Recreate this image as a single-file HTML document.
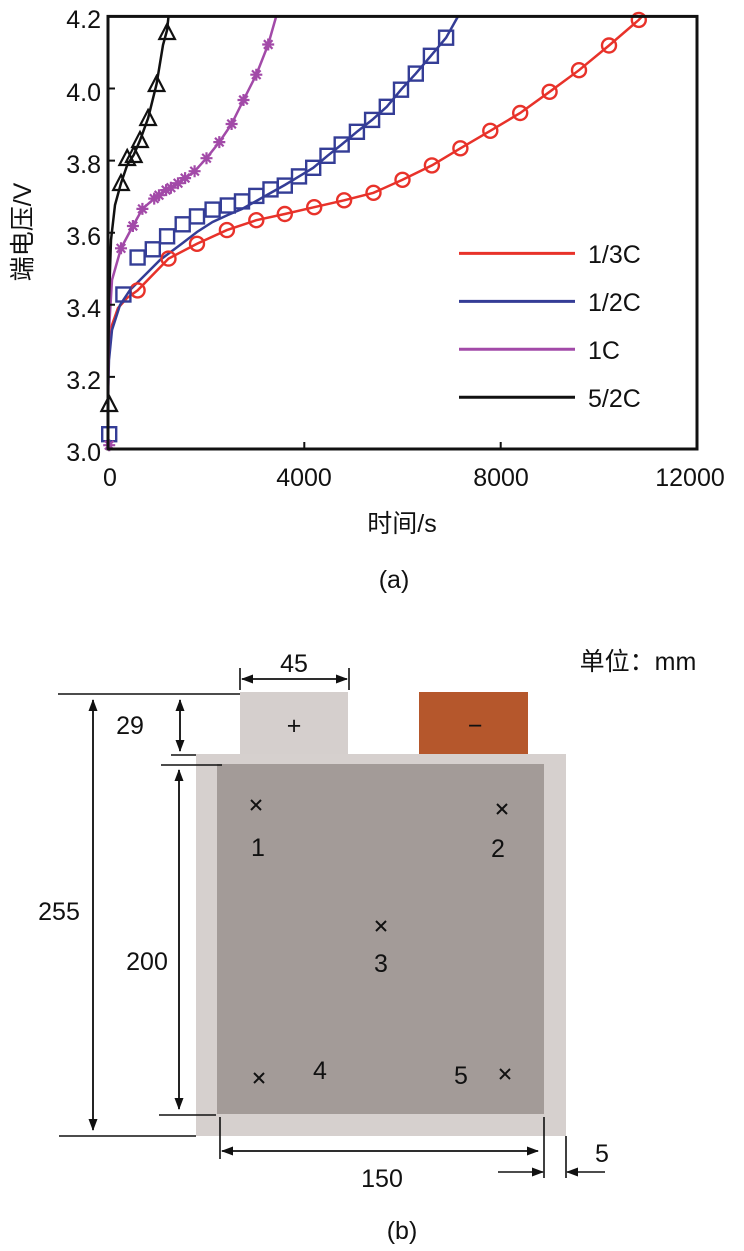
<!DOCTYPE html>
<html><head><meta charset="utf-8"><style>
body{margin:0;background:#fff}
svg{display:block;font-family:"Liberation Sans","Noto Sans CJK SC",sans-serif}
</style></head><body>
<svg width="744" height="1251" viewBox="0 0 744 1251" xmlns="http://www.w3.org/2000/svg">
<defs>
<marker id="ah" markerWidth="12" markerHeight="12" refX="11" refY="6" orient="auto" markerUnits="userSpaceOnUse"><path d="M0,1.5 L12,6 L0,10.5 z" fill="#111"/></marker>
<g id="st" stroke="#a24aa8" stroke-width="2.2"><path d="M-6,0 H6 M0,-6 V6 M-4.3,-4.3 L4.3,4.3 M-4.3,4.3 L4.3,-4.3"/></g>
</defs>
<!-- chart a -->
<g fill="none" stroke-width="2.5">
<path stroke="#e8322a" d="M108,378 L109,350 L112,325 L118,308 L127,298 L137.6,290.4 L168.5,258.6 L197,243.8 L226.9,230.1 L256.3,220.2 L284.8,214 L314.2,207.2 L344.1,200.3 L373.5,192.8 L402.5,179.8 L431.9,165.4 L460.4,148.3 L490.3,130.8 L520.2,113 L549.6,91.8 L579,70.2 L609,45.5 L638.8,19.9 L642,16.4"/>
<path stroke="#343d96" d="M108,395 L109,360 L112,330 L120,305 L130,290 L145,275 L160,260 L182.7,243 L197,232 L212.6,222 L227.8,215 L242,209 L256.3,201 L270.5,193 L284.8,185 L299,176.4 L313.2,167.8 L327.5,155.8 L341.7,144.5 L356.9,131.8 L372.1,119.9 L386.8,106.8 L401,89.7 L415.8,73.6 L430.9,55.8 L446.1,37.7 L458,16.4"/>
<path stroke="#a24aa8" d="M108,420 L109,330 L112,280 L121,248.3 L132.9,226 L142.4,208.9 L154.2,198.6 L166.1,190.1 L178,183.2 L185.1,178.1 L194.6,171.2 L206.5,158.2 L219.3,142.1 L231.6,124 L243.5,100 L256.3,74.7 L268.2,44.5 L276.2,16.4"/>
<path stroke="#111" d="M108,400 L109,300 L111,240 L115,205 L121,183.2 L127.2,165 L133.8,154.8 L140,140.4 L148.1,118.2 L156.6,83.9 L163,45 L167.1,30 L168.5,16.4"/>
</g>
<g fill="none" stroke="#e8322a" stroke-width="2.4">
<circle cx="137.6" cy="290.4" r="7"/><circle cx="168.5" cy="258.6" r="7"/><circle cx="197" cy="243.8" r="7"/><circle cx="226.9" cy="230.1" r="7"/><circle cx="256.3" cy="220.2" r="7"/><circle cx="284.8" cy="214" r="7"/><circle cx="314.2" cy="207.2" r="7"/><circle cx="344.1" cy="200.3" r="7"/><circle cx="373.5" cy="192.8" r="7"/><circle cx="402.5" cy="179.8" r="7"/><circle cx="431.9" cy="165.4" r="7"/><circle cx="460.4" cy="148.3" r="7"/><circle cx="490.3" cy="130.8" r="7"/><circle cx="520.2" cy="113" r="7"/><circle cx="549.6" cy="91.8" r="7"/><circle cx="579" cy="70.2" r="7"/><circle cx="609" cy="45.5" r="7"/><circle cx="638.8" cy="19.9" r="7"/>
</g>
<g fill="none" stroke="#343d96" stroke-width="2.4">
<rect x="102.2" y="427.2" width="14" height="14"/><rect x="116.4" y="287.5" width="14" height="14"/><rect x="130.6" y="250.5" width="14" height="14"/><rect x="145.8" y="242.3" width="14" height="14"/><rect x="160.1" y="229.3" width="14" height="14"/><rect x="175.7" y="217.3" width="14" height="14"/><rect x="190" y="209.4" width="14" height="14"/><rect x="205.6" y="202.6" width="14" height="14"/><rect x="220.8" y="198.5" width="14" height="14"/><rect x="235" y="194.4" width="14" height="14"/><rect x="249.3" y="188.9" width="14" height="14"/><rect x="263.5" y="182.4" width="14" height="14"/><rect x="277.8" y="178.6" width="14" height="14"/><rect x="292" y="169.4" width="14" height="14"/><rect x="306.2" y="160.8" width="14" height="14"/><rect x="320.5" y="148.8" width="14" height="14"/><rect x="334.7" y="137.5" width="14" height="14"/><rect x="349.9" y="124.8" width="14" height="14"/><rect x="365.1" y="112.9" width="14" height="14"/><rect x="379.8" y="99.8" width="14" height="14"/><rect x="394" y="82.7" width="14" height="14"/><rect x="408.8" y="66.6" width="14" height="14"/><rect x="423.9" y="48.8" width="14" height="14"/><rect x="439.1" y="30.7" width="14" height="14"/>
</g>
<g>
<use href="#st" x="109.2" y="445.2"/><use href="#st" x="121" y="248.3"/><use href="#st" x="132.9" y="226"/><use href="#st" x="142.4" y="208.9"/><use href="#st" x="154.2" y="198.6"/><use href="#st" x="159" y="195.2"/><use href="#st" x="166.1" y="190.1"/><use href="#st" x="170.9" y="187.7"/><use href="#st" x="178" y="183.2"/><use href="#st" x="185.1" y="178.1"/><use href="#st" x="194.6" y="171.2"/><use href="#st" x="206.5" y="158.2"/><use href="#st" x="219.3" y="142.1"/><use href="#st" x="231.6" y="124"/><use href="#st" x="243.5" y="100"/><use href="#st" x="256.3" y="74.7"/><use href="#st" x="268.2" y="44.5"/>
</g>
<g fill="none" stroke="#111" stroke-width="2.2">
<path d="M109.2,396 L117,411 L101.4,411 Z"/><path d="M121,175 L128.8,190 L113.2,190 Z"/><path d="M127.2,150 L135,165 L119.4,165 Z"/><path d="M133.8,147 L141.6,162 L126,162 Z"/><path d="M140,132 L147.8,147 L132.2,147 Z"/><path d="M148.1,110 L155.9,125 L140.3,125 Z"/><path d="M156.6,76 L164.4,91 L148.8,91 Z"/><path d="M167.1,24 L174.9,39 L159.3,39 Z"/>
</g>
<rect x="108" y="16.4" width="589" height="432.6" fill="none" stroke="#111" stroke-width="3"/>
<g stroke="#111" stroke-width="2">
<path d="M304.3,449 v-7 M500.7,449 v-7"/>
<path d="M108,376.9 h7 M108,304.8 h7 M108,232.7 h7 M108,160.6 h7 M108,88.5 h7"/>
</g>
<g font-size="25" fill="#111" text-anchor="end">
<text x="101" y="461">3.0</text><text x="101" y="389">3.2</text><text x="101" y="317">3.4</text><text x="101" y="245">3.6</text><text x="101" y="173">3.8</text><text x="101" y="101">4.0</text><text x="101" y="28">4.2</text>
</g>
<g font-size="25" fill="#111" text-anchor="middle">
<text x="110" y="486">0</text><text x="304" y="486">4000</text><text x="501" y="486">8000</text><text x="690" y="486">12000</text>
<text x="402" y="532">时间/s</text>
<text x="394" y="588">(a)</text>
</g>
<text transform="translate(31,232) rotate(-90)" font-size="25" fill="#111" text-anchor="middle">端电压/V</text>
<g stroke-width="3">
<line x1="459" y1="253.4" x2="575" y2="253.4" stroke="#e8322a"/>
<line x1="459" y1="301.4" x2="575" y2="301.4" stroke="#343d96"/>
<line x1="459" y1="349.3" x2="575" y2="349.3" stroke="#a24aa8"/>
<line x1="459" y1="397.3" x2="575" y2="397.3" stroke="#111"/>
</g>
<g font-size="25" fill="#111">
<text x="588" y="263">1/3C</text><text x="588" y="311">1/2C</text><text x="588" y="359">1C</text><text x="588" y="407">5/2C</text>
</g>

<!-- diagram b -->
<rect x="240" y="692" width="108" height="63" fill="#d5cfcd"/>
<rect x="419" y="692" width="109" height="63" fill="#b5572c"/>
<rect x="196" y="754" width="370" height="382" fill="#d6d0ce"/>
<rect x="217" y="764" width="327" height="350" fill="#a39b98"/>
<g stroke="#111" stroke-width="1.6" fill="none">
<path d="M58,694 H240 M59,1136 H196 M171,755 H196 M161,765 H222 M159,1115 H216"/>
<path d="M240,668 V690 M349,668 V690"/>
<path d="M220,1117 V1159 M544,1117 V1178 M566,1136 V1178"/>
<path d="M93,700 V1130" marker-end="url(#ah)"/><path d="M93,1130 V700" marker-end="url(#ah)"/>
<path d="M180,700 V751" marker-end="url(#ah)"/><path d="M180,751 V700" marker-end="url(#ah)"/>
<path d="M179,770 V1109" marker-end="url(#ah)"/><path d="M179,1109 V770" marker-end="url(#ah)"/>
<path d="M242,679 H347" marker-end="url(#ah)"/><path d="M347,679 H242" marker-end="url(#ah)"/>
<path d="M222,1151 H538" marker-end="url(#ah)"/><path d="M538,1151 H222" marker-end="url(#ah)"/>
<path d="M498,1172 H543" marker-end="url(#ah)"/><path d="M605,1172 H567" marker-end="url(#ah)"/>
</g>
<g font-size="25" fill="#111" text-anchor="middle">
<text x="294" y="672">45</text>
<text x="130" y="734">29</text>
<text x="59" y="920">255</text>
<text x="147" y="970">200</text>
<text x="382" y="1187">150</text>
<text x="602" y="1162">5</text>
<text x="294" y="734">+</text>
<text x="475" y="734">−</text>
<text x="258" y="856">1</text><text x="498" y="857">2</text><text x="381" y="972">3</text><text x="320" y="1079">4</text><text x="461" y="1084">5</text>
<text x="638" y="670">单位：mm</text>
<text x="402" y="1239">(b)</text>
</g>
<g stroke="#111" stroke-width="2">
<path d="M251,800 l10,10 M261,800 l-10,10"/>
<path d="M497,804 l10,10 M507,804 l-10,10"/>
<path d="M376,921 l10,10 M386,921 l-10,10"/>
<path d="M254,1073 l10,10 M264,1073 l-10,10"/>
<path d="M500,1069 l10,10 M510,1069 l-10,10"/>
</g>
</svg>
</body></html>
